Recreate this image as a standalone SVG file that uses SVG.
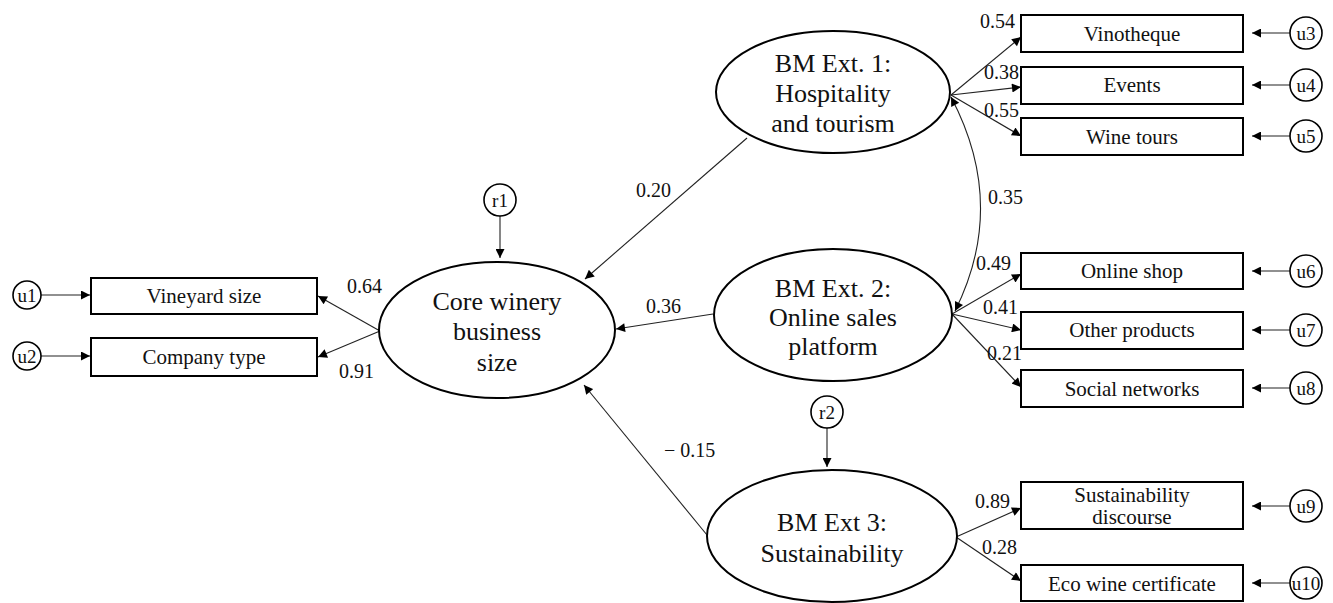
<svg xmlns="http://www.w3.org/2000/svg" width="1333" height="603" viewBox="0 0 1333 603">
<style>
.node{fill:#fff;stroke:#000;stroke-width:2}
.err{fill:#fff;stroke:#000;stroke-width:1.6}
.t{font-family:"Liberation Serif",serif;fill:#111;text-anchor:middle;dominant-baseline:central}
.lat{font-size:26px}
.box{font-size:21px}
.u{font-size:19px}
.lbl{font-family:"Liberation Serif",serif;fill:#111;font-size:20px}
.c{stroke:#222;stroke-width:1.1;fill:none;marker-end:url(#ah)}
.cv{stroke:#222;stroke-width:1.1;fill:none;marker-end:url(#ah);marker-start:url(#ah)}
</style>
<defs>
<marker id="ah" viewBox="0 0 10 10" refX="10" refY="5" markerWidth="11" markerHeight="9" markerUnits="userSpaceOnUse" orient="auto-start-reverse">
<path d="M0,0 L10,5 L0,10 z" fill="#000"/>
</marker>
</defs>
<rect width="1333" height="603" fill="#fff"/>

<g id="connectors">
<line class="c" x1="41" y1="295" x2="90" y2="295"/>
<line class="c" x1="41" y1="356" x2="90" y2="356"/>
<line class="c" x1="380" y1="331" x2="318" y2="296"/>
<line class="c" x1="380" y1="331" x2="318" y2="357"/>
<line class="c" x1="500" y1="216" x2="500" y2="258"/>
<line class="c" x1="747" y1="138" x2="585" y2="279"/>
<line class="c" x1="713" y1="314" x2="616" y2="329"/>
<line class="c" x1="707" y1="535" x2="584" y2="385"/>
<line class="c" x1="827" y1="428" x2="827" y2="467"/>
<line class="c" x1="951" y1="95" x2="1021" y2="37"/>
<line class="c" x1="951" y1="95" x2="1021" y2="87"/>
<line class="c" x1="951" y1="95" x2="1021" y2="136"/>
<line class="c" x1="952" y1="314" x2="1021" y2="274"/>
<line class="c" x1="952" y1="314" x2="1021" y2="330"/>
<line class="c" x1="952" y1="314" x2="1021" y2="387"/>
<line class="c" x1="956" y1="537" x2="1021" y2="508"/>
<line class="c" x1="956" y1="537" x2="1021" y2="581"/>
<path class="cv" d="M951,97 Q1008,205 955,311"/>
<line class="c" x1="1290" y1="33" x2="1252" y2="33"/>
<line class="c" x1="1290" y1="85" x2="1252" y2="85"/>
<line class="c" x1="1290" y1="136" x2="1252" y2="136"/>
<line class="c" x1="1290" y1="271" x2="1252" y2="271"/>
<line class="c" x1="1290" y1="330" x2="1252" y2="330"/>
<line class="c" x1="1290" y1="388" x2="1252" y2="388"/>
<line class="c" x1="1290" y1="506" x2="1252" y2="506"/>
<line class="c" x1="1290" y1="583" x2="1252" y2="583"/>
</g>

<g id="labels">
<text class="lbl" x="347" y="293">0.64</text>
<text class="lbl" x="339" y="378">0.91</text>
<text class="lbl" x="636" y="197">0.20</text>
<text class="lbl" x="646" y="313">0.36</text>
<text class="lbl" x="664" y="457">− 0.15</text>
<text class="lbl" x="988" y="204">0.35</text>
<text class="lbl" x="980" y="28">0.54</text>
<text class="lbl" x="984" y="79">0.38</text>
<text class="lbl" x="984" y="117">0.55</text>
<text class="lbl" x="976" y="270">0.49</text>
<text class="lbl" x="983" y="314">0.41</text>
<text class="lbl" x="987" y="360">0.21</text>
<text class="lbl" x="975" y="508">0.89</text>
<text class="lbl" x="982" y="554">0.28</text>
</g>

<g id="u1"><circle class="err" cx="27" cy="295" r="14"/><text class="t u" x="27" y="295">u1</text></g>
<g id="u2"><circle class="err" cx="27" cy="356" r="14"/><text class="t u" x="27" y="356">u2</text></g>
<g id="vineyard"><rect class="node" x="91" y="278" width="226" height="36"/><text class="t box" x="204" y="296">Vineyard size</text></g>
<g id="company"><rect class="node" x="91" y="338" width="226" height="38"/><text class="t box" x="204" y="357">Company type</text></g>

<g id="r1"><circle class="err" cx="500" cy="200" r="16"/><text class="t u" x="500" y="200">r1</text></g>
<g id="core"><ellipse class="node" cx="497" cy="330" rx="118" ry="68"/>
<text class="t lat" x="497" y="301">Core winery</text><text class="t lat" x="497" y="331">business</text><text class="t lat" x="497" y="362">size</text></g>

<g id="ext1"><ellipse class="node" cx="833" cy="92" rx="117" ry="61"/>
<text class="t lat" x="833" y="63">BM Ext. 1:</text><text class="t lat" x="833" y="93">Hospitality</text><text class="t lat" x="833" y="123">and tourism</text></g>
<g id="ext2"><ellipse class="node" cx="833" cy="315" rx="119" ry="66"/>
<text class="t lat" x="833" y="288">BM Ext. 2:</text><text class="t lat" x="833" y="317">Online sales</text><text class="t lat" x="833" y="346">platform</text></g>
<g id="r2"><circle class="err" cx="827" cy="412" r="16"/><text class="t u" x="827" y="412">r2</text></g>
<g id="ext3"><ellipse class="node" cx="832" cy="536" rx="125" ry="66"/>
<text class="t lat" x="832" y="522">BM Ext 3:</text><text class="t lat" x="832" y="553">Sustainability</text></g>

<g id="vinotheque"><rect class="node" x="1021" y="15" width="222" height="37"/><text class="t box" x="1132" y="34">Vinotheque</text></g>
<g id="events"><rect class="node" x="1021" y="67" width="222" height="37"/><text class="t box" x="1132" y="85">Events</text></g>
<g id="winetours"><rect class="node" x="1021" y="118" width="222" height="37"/><text class="t box" x="1132" y="137">Wine tours</text></g>
<g id="onlineshop"><rect class="node" x="1021" y="253" width="222" height="36"/><text class="t box" x="1132" y="271">Online shop</text></g>
<g id="otherproducts"><rect class="node" x="1021" y="312" width="222" height="37"/><text class="t box" x="1132" y="330">Other products</text></g>
<g id="social"><rect class="node" x="1021" y="370" width="222" height="37"/><text class="t box" x="1132" y="389">Social networks</text></g>
<g id="susdisc"><rect class="node" x="1021" y="482" width="222" height="47"/><text class="t box" x="1132" y="495">Sustainability</text><text class="t box" x="1132" y="517">discourse</text></g>
<g id="eco"><rect class="node" x="1021" y="565" width="222" height="36"/><text class="t box" x="1132" y="584">Eco wine certificate</text></g>

<g id="u3"><circle class="err" cx="1306" cy="33" r="16"/><text class="t u" x="1306" y="33">u3</text></g>
<g id="u4"><circle class="err" cx="1306" cy="85" r="16"/><text class="t u" x="1306" y="85">u4</text></g>
<g id="u5"><circle class="err" cx="1306" cy="136" r="16"/><text class="t u" x="1306" y="136">u5</text></g>
<g id="u6"><circle class="err" cx="1306" cy="271" r="16"/><text class="t u" x="1306" y="271">u6</text></g>
<g id="u7"><circle class="err" cx="1306" cy="330" r="16"/><text class="t u" x="1306" y="330">u7</text></g>
<g id="u8"><circle class="err" cx="1306" cy="388" r="16"/><text class="t u" x="1306" y="388">u8</text></g>
<g id="u9"><circle class="err" cx="1306" cy="506" r="16"/><text class="t u" x="1306" y="506">u9</text></g>
<g id="u10"><circle class="err" cx="1306" cy="583" r="16"/><text class="t u" x="1306" y="583">u10</text></g>
</svg>
